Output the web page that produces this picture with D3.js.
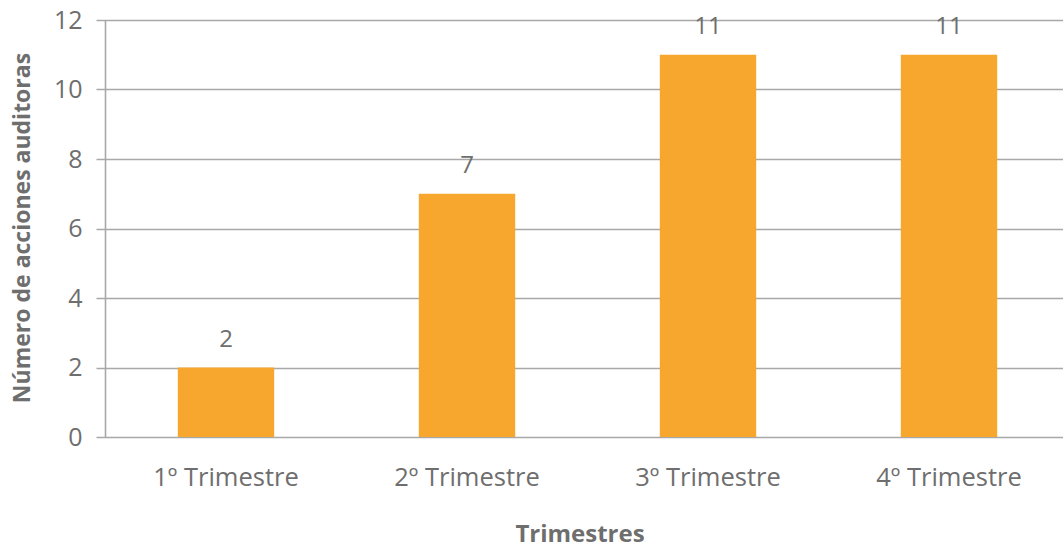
<!DOCTYPE html>
<html><head><meta charset="utf-8">
<script src="https://cdn.jsdelivr.net/npm/d3@7"></script>
<style>
html,body{margin:0;padding:0;background:#fff;}
svg{display:block;}
text{font-family:"Open Sans","Noto Sans",sans-serif;}
</style></head>
<body><svg id="c" width="1063" height="549"></svg>
<script>
const categories = ["1º Trimestre","2º Trimestre","3º Trimestre","4º Trimestre"];
const values = [2, 7, 11, 11];
const yTicks = [0, 2, 4, 6, 8, 10, 12];
const xTitle = "Trimestres";
const yTitle = "Número de acciones auditoras";

const svg = d3.select("#c");
const pLeft = 105.5, pRight = 1069.5, pTop = 20, pBottom = 437;
const x = d3.scaleBand().domain(categories).range([pLeft, pRight]).paddingInner(0.6).paddingOuter(0.3);
const y = d3.scaleLinear().domain([0, 12]).range([pBottom, pTop]);
const gridColor = "#a8a8a8", textColor = "#6e6e6e", barColor = "#f7a72d";

// gridlines
svg.append("g").selectAll("line").data(yTicks).join("line")
  .attr("x1", pLeft - 9).attr("x2", pRight)
  .attr("y1", d => Math.round(y(d)) + 0.5).attr("y2", d => Math.round(y(d)) + 0.5)
  .attr("stroke", gridColor).attr("stroke-width", 1.6);

// bars
svg.append("g").selectAll("rect").data(values).join("rect")
  .attr("x", (d, i) => x(categories[i])).attr("width", x.bandwidth())
  .attr("y", d => y(d)).attr("height", d => y(0) - y(d))
  .attr("fill", barColor);

// y axis line
svg.append("line").attr("x1", pLeft).attr("x2", pLeft).attr("y1", pTop).attr("y2", pBottom)
  .attr("stroke", gridColor).attr("stroke-width", 1.6);

// y tick labels
const yAxis = d3.axisLeft(y).tickValues(yTicks).tickSize(0).tickPadding(0);
const gy = svg.append("g").attr("transform", `translate(${pLeft - 23},0)`).call(yAxis);
gy.select(".domain").remove();
gy.selectAll("text").attr("fill", textColor).style("font-size", "25px")
  .attr("font-family", '"Open Sans","Noto Sans",sans-serif');

// x tick labels
const xAxis = d3.axisBottom(x).tickSize(0).tickPadding(0);
const gx = svg.append("g").attr("transform", `translate(0,${pBottom})`).call(xAxis);
gx.select(".domain").remove();
gx.selectAll("text").attr("fill", textColor).style("font-size", "25.5px")
  .attr("y", 49).attr("dy", 0)
  .attr("font-family", '"Open Sans","Noto Sans",sans-serif');

// value labels
svg.append("g").selectAll("text").data(values).join("text")
  .attr("x", (d, i) => x(categories[i]) + x.bandwidth() / 2)
  .attr("y", d => y(d) - 21)
  .attr("text-anchor", "middle").attr("fill", textColor).style("font-size", "24px")
  .text(d => d);

// axis titles
svg.append("text").attr("x", 580).attr("y", 542).attr("text-anchor", "middle")
  .attr("fill", textColor).style("font-size", "24px").style("font-weight", "bold").text(xTitle);
svg.append("text").attr("transform", "translate(30,228) rotate(-90)").attr("text-anchor", "middle")
  .attr("fill", textColor).style("font-size", "23px").style("font-weight", "bold").text(yTitle);
</script></body></html>
